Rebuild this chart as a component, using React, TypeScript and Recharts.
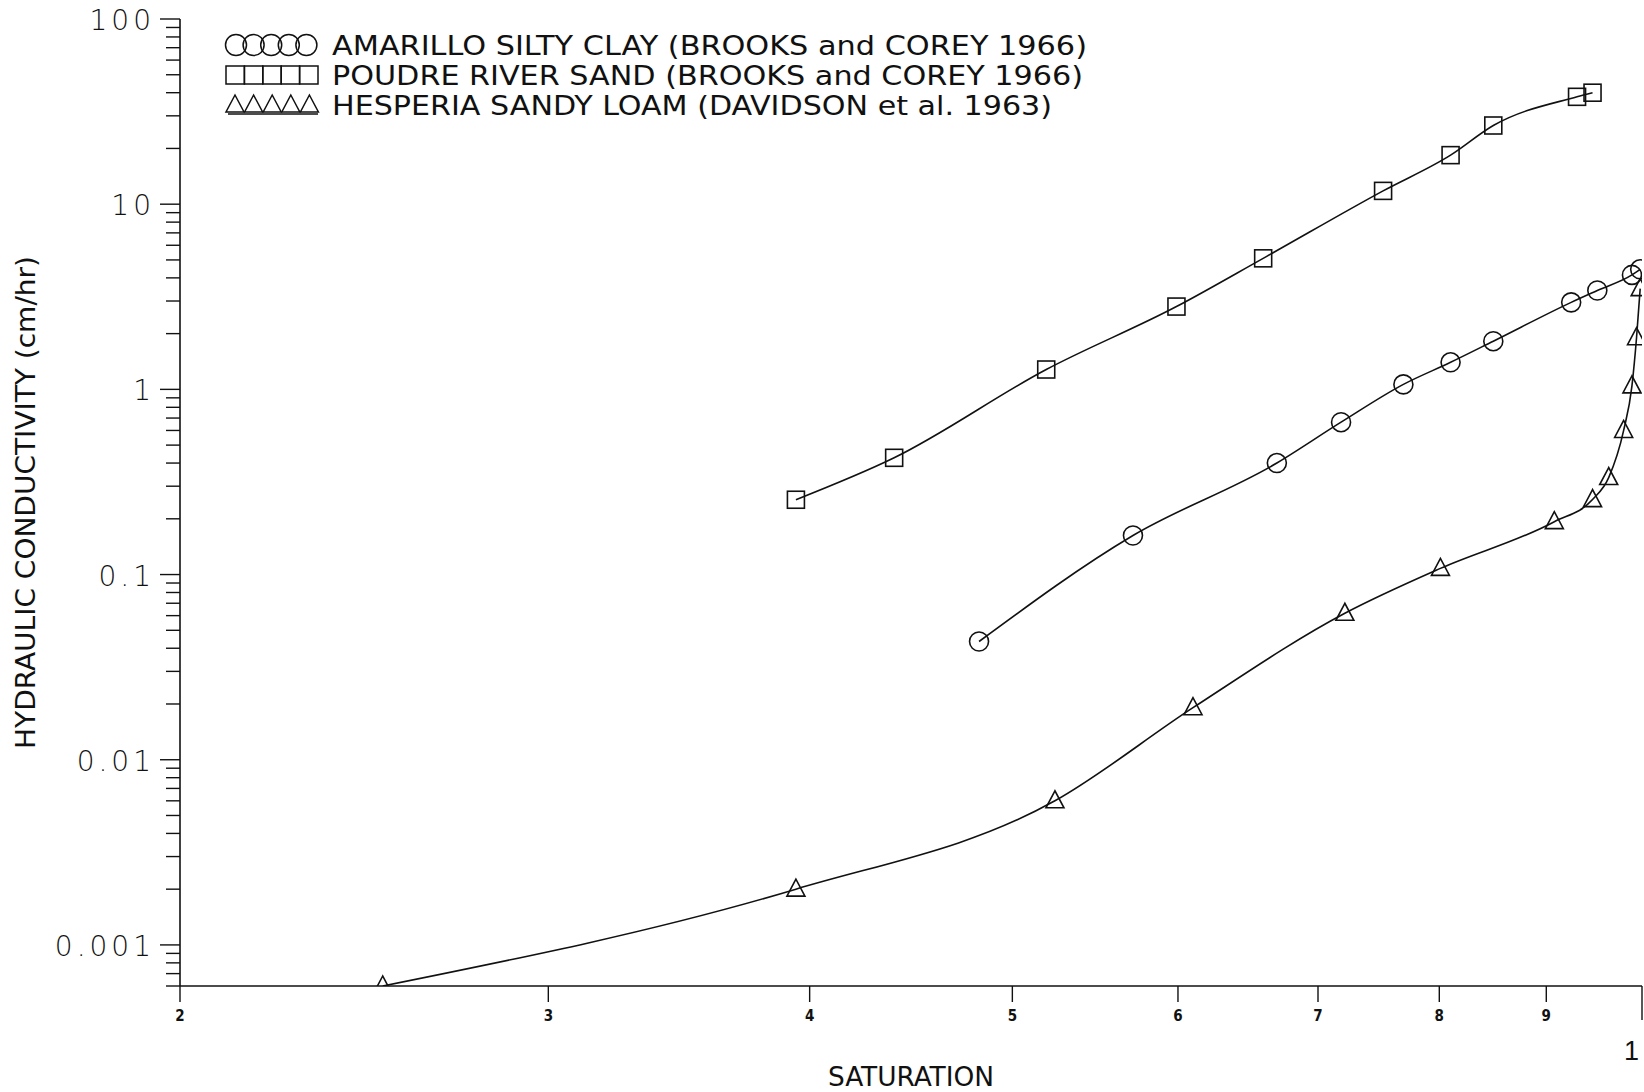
import { LineChart, Line, XAxis, YAxis, Legend } from 'recharts'

// Saturation (x) and hydraulic conductivity in cm/hr (y)
const amarilloSat = [0.482, 0.571, 0.669, 0.718, 0.769, 0.81, 0.849, 0.925, 0.952, 0.989, 0.998]
const amarilloK = [0.0435, 0.1625, 0.4, 0.665, 1.064, 1.4, 1.82, 2.95, 3.42, 4.15, 4.45]

const poudreSat = [0.394, 0.439, 0.519, 0.599, 0.659, 0.752, 0.81, 0.849, 0.931, 0.947]
const poudreK = [0.2535, 0.427, 1.28, 2.8, 5.1, 11.8, 18.4, 26.6, 38, 40]

const hesperiaSat = [0.25, 0.394, 0.524, 0.61, 0.721, 0.801, 0.908, 0.947, 0.964, 0.98, 0.989, 0.994, 0.998]
const hesperiaK = [0.0006, 0.002, 0.006, 0.0191, 0.0618, 0.108, 0.193, 0.254, 0.334, 0.6, 1.045, 1.9, 3.5]

const seriesNames = [
  'AMARILLO SILTY CLAY (BROOKS and COREY 1966)',
  'POUDRE RIVER SAND (BROOKS and COREY 1966)',
  'HESPERIA SANDY LOAM (DAVIDSON et al. 1963)',
]

const xTicks = [0.2, 0.3, 0.4, 0.5, 0.6, 0.7, 0.8, 0.9, 1]
const xTickLabels = ['2', '3', '4', '5', '6', '7', '8', '9', '1']

const yMajorTicks = [0.001, 0.01, 0.1, 1, 10, 100]
const yMajorLabels = ['0.001', '0.01', '0.1', '1', '10', '100']

const Y_MIN = 0.0006
const Y_MAX = 100

// minor ticks 2..9 in every decade inside the domain
const yTicks: number[] = []
for (let e = -4; e <= 2; e++) {
  for (let m = 1; m <= 9; m++) {
    const v = m * Math.pow(10, e)
    if (v >= Y_MIN * 0.999 && v <= Y_MAX * 1.001) yTicks.push(v)
  }
}

const toRows = (xs: number[], ys: number[]) => xs.map((x, i) => ({ x, y: ys[i] }))

const INK = '#111'
const FONT = "'Liberation Sans Narrow', 'DejaVu Sans Condensed', 'Liberation Sans', sans-serif"

function Circle({ cx, cy }: { cx: number; cy: number }) {
  return <circle cx={cx} cy={cy} r={9.5} fill="none" stroke={INK} strokeWidth={1.6} />
}
function Square({ cx, cy }: { cx: number; cy: number }) {
  return <rect x={cx - 8.5} y={cy - 8.5} width={17} height={17} fill="none" stroke={INK} strokeWidth={1.6} />
}
function Triangle({ cx, cy }: { cx: number; cy: number }) {
  return (
    <polygon
      points={`${cx},${cy - 10} ${cx - 9},${cy + 7} ${cx + 9},${cy + 7}`}
      fill="none"
      stroke={INK}
      strokeWidth={1.6}
    />
  )
}

const dotOf = (Shape: typeof Circle) => (p: any) =>
  <Shape key={`d${p.index}`} cx={p.cx} cy={p.cy} />

function YTick(props: any) {
  const { x, y, payload } = props
  const idx = yMajorTicks.findIndex((t) => Math.abs(t - payload.value) / t < 1e-6)
  const major = idx >= 0
  return (
    <g>
      <line x1={x - (major ? 20 : 14)} x2={x} y1={y} y2={y} stroke={INK} strokeWidth={1.4} />
      {major && (
        <text
          x={x - 25}
          y={y + 11}
          textAnchor="end"
          fontSize={28}
          letterSpacing={4}
          fontWeight={300}
          fontFamily="'DejaVu Sans', sans-serif"
          fill={INK}
        >
          {yMajorLabels[idx]}
        </text>
      )}
    </g>
  )
}

function XTick(props: any) {
  const { x, y, payload, index } = props
  const last = payload.value === 1
  return (
    <g>
      <line x1={x} x2={x} y1={y} y2={y + (last ? 34 : 16)} stroke={INK} strokeWidth={1.4} />
      {last ? (
        <text x={x - 3} y={y + 74} textAnchor="end" fontSize={27} fontFamily="'Liberation Sans', sans-serif" fill={INK}>
          {xTickLabels[index]}
        </text>
      ) : (
        <text x={x} y={y + 35} textAnchor="middle" fontSize={15} fontWeight="bold" fontFamily={FONT} fill={INK}>
          {xTickLabels[index]}
        </text>
      )}
    </g>
  )
}

const legendWidths = [755, 751, 720]

function LegendBox() {
  const rows = [0, 1, 2]
  return (
    <svg width={1100} height={130} style={{ display: 'block' }}>
      {rows.map((r) => {
        const cy = 45 + r * 30
        const marks = [0, 1, 2, 3, 4]
        return (
          <g key={r}>
            {r === 0 && marks.map((i) => <circle key={i} cx={236 + i * 17.6} cy={cy} r={10.5} fill="none" stroke={INK} strokeWidth={1.5} />)}
            {r === 1 && marks.map((i) => <rect key={i} x={226 + i * 18.4} y={cy - 9} width={18.4} height={18} fill="none" stroke={INK} strokeWidth={1.5} />)}
            {r === 2 && (
              <g>
                {marks.map((i) => (
                  <polygon key={i} points={`${235 + i * 18.6},${cy - 10} ${226 + i * 18.6},${cy + 7} ${244 + i * 18.6},${cy + 7}`} fill="none" stroke={INK} strokeWidth={1.5} />
                ))}
                <line x1={228} x2={318} y1={cy + 9} y2={cy + 9} stroke={INK} strokeWidth={1.5} />
              </g>
            )}
            <text
              x={332}
              y={cy + 10}
              fontSize={27}
              fontFamily={FONT}
              fill={INK}
              textLength={legendWidths[r]}
              lengthAdjust="spacingAndGlyphs"
            >
              {seriesNames[r]}
            </text>
          </g>
        )
      })}
    </svg>
  )
}

export default function App() {
  return (
    <div style={{ position: 'absolute', left: 0, top: 0, background: '#fff' }}>
      <LineChart width={1644} height={1092} margin={{ top: 19, right: 2, bottom: 0, left: 0 }}>
        <XAxis
          type="number"
          dataKey="x"
          scale="log"
          domain={[0.2, 1]}
          ticks={xTicks}
          interval={0}
          allowDataOverflow
          height={106}
          tickSize={0}
          tickMargin={0}
          tick={<XTick />}
          axisLine={{ stroke: INK, strokeWidth: 1.6 }}
          label={{
            content: ({ viewBox }: any) => (
              <text
                x={viewBox.x + viewBox.width / 2}
                y={viewBox.y + 100}
                textAnchor="middle"
                fontSize={27}
                fontFamily={FONT}
                fill={INK}
                textLength={166}
                lengthAdjust="spacingAndGlyphs"
              >
                SATURATION
              </text>
            ),
          }}
        />
        <YAxis
          type="number"
          dataKey="y"
          scale="log"
          domain={[Y_MIN, Y_MAX]}
          ticks={yTicks}
          interval={0}
          allowDataOverflow
          width={180}
          tickSize={0}
          tickMargin={0}
          tick={<YTick />}
          axisLine={{ stroke: INK, strokeWidth: 1.6 }}
          label={{
            content: ({ viewBox }: any) => {
              const cx = 35
              const cy = viewBox.y + viewBox.height / 2
              return (
                <text
                  x={cx}
                  y={cy}
                  transform={`rotate(-90 ${cx} ${cy})`}
                  textAnchor="middle"
                  fontSize={27}
                  fontFamily={FONT}
                  fill={INK}
                  textLength={493}
                  lengthAdjust="spacingAndGlyphs"
                >
                  HYDRAULIC CONDUCTIVITY (cm/hr)
                </text>
              )
            },
          }}
        />
        <Legend
          layout="vertical"
          align="center"
          verticalAlign="middle"
          wrapperStyle={{ position: 'absolute', top: 0, left: 0, width: 1100, height: 130 }}
          content={() => <LegendBox />}
        />
        <Line
          data={toRows(amarilloSat, amarilloK)}
          dataKey="y"
          name={seriesNames[0]}
          type="monotone"
          stroke={INK}
          strokeWidth={1.6}
          dot={dotOf(Circle)}
          activeDot={false}
          isAnimationActive={false}
        />
        <Line
          data={toRows(poudreSat, poudreK)}
          dataKey="y"
          name={seriesNames[1]}
          type="monotone"
          stroke={INK}
          strokeWidth={1.6}
          dot={dotOf(Square)}
          activeDot={false}
          isAnimationActive={false}
        />
        <Line
          data={toRows(hesperiaSat, hesperiaK)}
          dataKey="y"
          name={seriesNames[2]}
          type="monotone"
          stroke={INK}
          strokeWidth={1.6}
          dot={dotOf(Triangle)}
          activeDot={false}
          isAnimationActive={false}
        />
      </LineChart>
    </div>
  )
}
